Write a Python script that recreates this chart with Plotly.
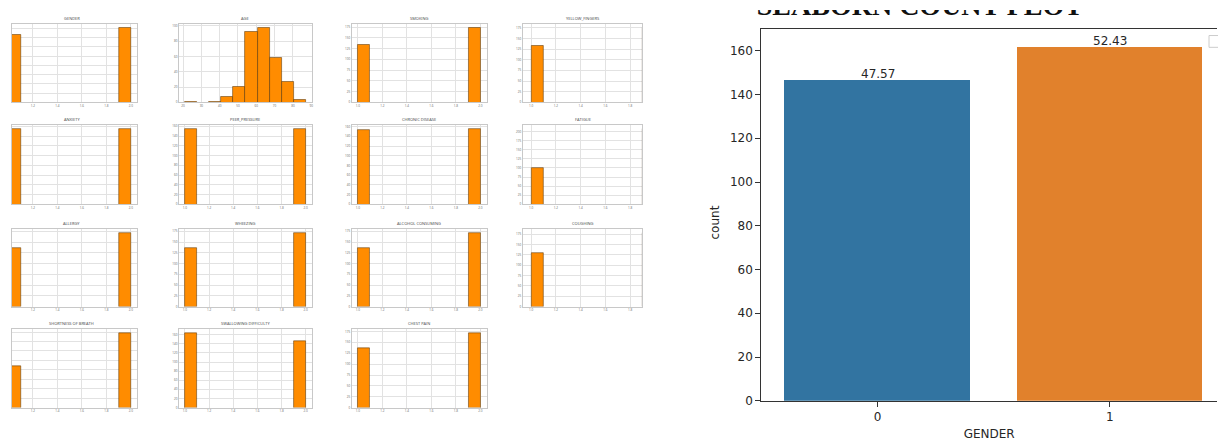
import numpy as np
import plotly.graph_objects as go

W, H = 1218, 448
TOP = 10  # white band above the figure (the title is cut at this line in the reference)

# ---------------- data ----------------
hist_titles = ["GENDER", "AGE", "SMOKING", "YELLOW_FINGERS",
               "ANXIETY", "PEER_PRESSURE", "CHRONIC DISEASE", "FATIGUE ",
               "ALLERGY ", "WHEEZING", "ALCOHOL CONSUMING", "COUGHING",
               "SHORTNESS OF BREATH", "SWALLOWING DIFFICULTY", "CHEST PAIN"]
# counts of the two levels (value 1, value 2) for the binary columns
binary_low = {"GENDER": 147, "SMOKING": 135, "YELLOW_FINGERS": 133, "ANXIETY": 155,
              "PEER_PRESSURE": 154, "CHRONIC DISEASE": 153, "FATIGUE ": 101,
              "ALLERGY ": 137, "WHEEZING": 137, "ALCOHOL CONSUMING": 137,
              "COUGHING": 130, "SHORTNESS OF BREATH": 111,
              "SWALLOWING DIFFICULTY": 164, "CHEST PAIN": 137}
binary_high = {"GENDER": 162, "SMOKING": 174, "YELLOW_FINGERS": 176, "ANXIETY": 154,
               "PEER_PRESSURE": 155, "CHRONIC DISEASE": 156, "FATIGUE ": 208,
               "ALLERGY ": 172, "WHEEZING": 172, "ALCOHOL CONSUMING": 172,
               "COUGHING": 179, "SHORTNESS OF BREATH": 198,
               "SWALLOWING DIFFICULTY": 145, "CHEST PAIN": 172}
age_min, age_max = 21, 87
age_counts = [1, 0, 1, 7, 21, 92, 98, 59, 27, 3]

gender_categories = ["0", "1"]
gender_counts = [147, 162]
count_colors = ["#3274a1", "#e1812c"]

# ---------------- layout helpers ----------------
FH = H - TOP

def fx(px):
    return px / W

def fy(py):
    return 1 - (py - TOP) / FH

col_x = [(12, 137), (179, 312), (352, 487), (523, 643)]
row_y = [(23, 103), (126, 207), (232, 311), (334, 414)]

fig = go.Figure()
layout = {}
annotations = []

for i, name in enumerate(hist_titles):
    k = i + 1
    r, c = divmod(i, 4)
    xs = "" if k == 1 else str(k)
    x0, x1 = col_x[c]
    y0, y1 = row_y[r]
    if name == "AGE":
        edges = np.linspace(age_min, age_max, 11)
        counts = age_counts
        span = age_max - age_min
        xr = [age_min - 0.05 * span, age_max + 0.05 * span]
        xdt = 10
        xfmt = ""
    else:
        edges = np.linspace(1, 2, 11)
        counts = [binary_low[name]] + [0] * 8 + [binary_high[name]]
        if c == 0:
            xr = [1.03, 2.05]
        elif c == 3:
            xr = [0.93, 1.9]
        else:
            xr = [0.95, 2.05]
        xdt = 0.2
        xfmt = ".1f"
    centers = (edges[:-1] + edges[1:]) / 2
    widths = np.diff(edges)
    ymax = max(counts) * 1.05
    ydt = 20 if max(counts) < 170 else 25
    edge_w = [0.5 if v > 0 else 0 for v in counts]
    fig.add_trace(go.Bar(x=centers, y=counts, width=widths,
                         marker=dict(color="#ff8c00", line=dict(color="#4a2a00", width=edge_w)),
                         xaxis="x" + xs, yaxis="y" + xs, showlegend=False))
    layout["xaxis" + xs] = dict(domain=[fx(x0), fx(x1)], anchor="y" + xs, range=xr,
                                dtick=xdt, tick0=0, tickformat=xfmt,
                                showgrid=True, gridcolor="#e2e2e2", gridwidth=0.6,
                                showline=True, linecolor="#c8c8c8", linewidth=0.7, mirror=True,
                                zeroline=False, ticks="", tickfont=dict(size=3, color="#666"),
                                fixedrange=True)
    layout["yaxis" + xs] = dict(domain=[fy(y1), fy(y0)], anchor="x" + xs, range=[0, ymax],
                                dtick=ydt, showgrid=True, gridcolor="#e2e2e2", gridwidth=0.6,
                                showline=True, linecolor="#c8c8c8", linewidth=0.7, mirror=True,
                                zeroline=False, ticks="", showticklabels=(c != 0),
                                tickfont=dict(size=3, color="#666"), fixedrange=True)
    annotations.append(dict(text=name.strip(), x=fx((x0 + x1) / 2 if c else 72), y=fy(y0 - 1),
                            xref="paper", yref="paper", xanchor="center", yanchor="bottom",
                            showarrow=False, font=dict(size=4, color="#444")))

# ---------------- count plot ----------------
fig.add_trace(go.Bar(x=list(range(len(gender_categories))), y=gender_counts, width=0.8,
                     marker=dict(color=count_colors, line=dict(width=0)),
                     xaxis="x16", yaxis="y16", showlegend=False))
layout["xaxis16"] = dict(domain=[fx(762), 1], anchor="y16", range=[-0.5, 1.461],
                         tickvals=list(range(len(gender_categories))), ticktext=gender_categories,
                         showgrid=False, zeroline=False, showline=True, linecolor="#333",
                         linewidth=1.2, mirror=True, ticks="outside", ticklen=5, tickcolor="#333",
                         tickfont=dict(family="DejaVu Sans", size=12, color="#262626"),
                         title=dict(text="GENDER", standoff=6,
                                    font=dict(family="DejaVu Sans", size=12, color="#262626")))
layout["yaxis16"] = dict(domain=[fy(407), fy(28)], anchor="x16", range=[0, max(gender_counts) * 1.05],
                         dtick=20, showgrid=False, zeroline=False, showline=True, linecolor="#333",
                         linewidth=1.2, ticks="outside", ticklen=5, tickcolor="#333",
                         tickfont=dict(family="DejaVu Sans", size=12, color="#262626"))
total = sum(gender_counts)
for i, v in enumerate(gender_counts):
    annotations.append(dict(text=f"{100 * v / total:.2f}", x=i, y=v, xref="x16", yref="y16",
                            xanchor="center", yanchor="bottom", yshift=-4, showarrow=False,
                            font=dict(family="DejaVu Sans", size=12, color="#262626")))
annotations.append(dict(text="count", x=fx(716), y=fy(225), xref="paper", yref="paper",
                        textangle=-90, showarrow=False, xanchor="center", yanchor="middle",
                        font=dict(family="DejaVu Sans", size=12, color="#262626")))

# title: its upper part runs past the top edge of the figure, as in the reference
fig.add_trace(go.Scatter(x=[0.5], y=[19], mode="text", text=["<b>SEABORN COUNT PLOT</b>"],
                         textposition="top center", cliponaxis=False,
                         textfont=dict(family="Liberation Serif", size=28, color="#111"),
                         xaxis="x17", yaxis="y17", showlegend=False, hoverinfo="skip"))
layout["xaxis17"] = dict(domain=[fx(700), fx(1140)], anchor="y17", range=[-0.003, 1],
                         visible=False, fixedrange=True)
layout["yaxis17"] = dict(domain=[fy(40), fy(10)], anchor="x17", range=[0, 30],
                         visible=False, fixedrange=True)

shapes = [dict(type="rect", xref="paper", yref="paper", x0=fx(1210), x1=fx(1222),
               y0=fy(47), y1=fy(35), line=dict(color="#cccccc", width=1), fillcolor="white")]

fig.update_layout(width=W, height=FH, margin=dict(l=0, r=0, t=0, b=0),
                  paper_bgcolor="white", plot_bgcolor="rgba(0,0,0,0)",
                  annotations=annotations, shapes=shapes, bargap=0, **layout)
fig.write_html("out.html", config={"displayModeBar": False},
               post_script=("document.body.style.margin='0';"
                            "document.body.style.paddingTop='%dpx';"
                            "document.body.style.background='white';"
                            "document.body.style.overflow='hidden';") % TOP)
